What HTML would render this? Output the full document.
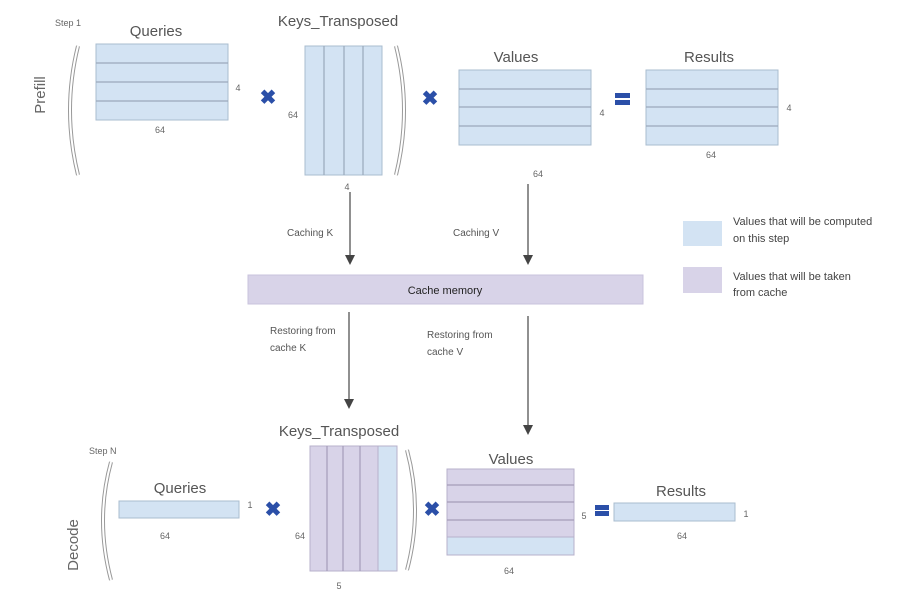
<!DOCTYPE html>
<html><head><meta charset="utf-8"><style>html,body{margin:0;padding:0;background:#fff}svg{display:block}text{font-family:"Liberation Sans",sans-serif}</style></head>
<body>
<svg width="919" height="590" viewBox="0 0 919 590" xmlns="http://www.w3.org/2000/svg">
<defs>
<marker id="ah" markerWidth="10" markerHeight="10" refX="5" refY="9" orient="auto" markerUnits="userSpaceOnUse"><path d="M0,0 L10,0 L5,10 Z" fill="#444" transform="rotate(-90 5 5)"/></marker>
</defs>
<g fill="#444">
<!-- arrows drawn manually -->
<line x1="350" y1="192" x2="350" y2="256" stroke="#555" stroke-width="1.3"/><path d="M345,255 L355,255 L350,265 Z"/>
<line x1="528" y1="184" x2="528" y2="256" stroke="#555" stroke-width="1.3"/><path d="M523,255 L533,255 L528,265 Z"/>
<line x1="349" y1="312" x2="349" y2="400" stroke="#555" stroke-width="1.3"/><path d="M344,399 L354,399 L349,409 Z"/>
<line x1="528" y1="316" x2="528" y2="426" stroke="#555" stroke-width="1.3"/><path d="M523,425 L533,425 L528,435 Z"/>
</g>
<g font-size="10" fill="#555">
<text x="287" y="236">Caching K</text>
<text x="453" y="236">Caching V</text>
<text x="270" y="334">Restoring from</text><text x="270" y="351">cache K</text>
<text x="427" y="338">Restoring from</text><text x="427" y="355">cache V</text>
</g>
<rect x="248" y="275" width="395" height="29" fill="#d8d3e8" stroke="#c9c3dc"/>
<text x="445" y="294" font-size="11" text-anchor="middle" fill="#222">Cache memory</text>
<rect x="683" y="221" width="39" height="25" fill="#d3e3f3"/>
<rect x="683" y="267" width="39" height="26" fill="#d8d3e8"/>
<g font-size="11" fill="#444">
<text x="733" y="225">Values that will be computed</text><text x="733" y="242">on this step</text>
<text x="733" y="280">Values that will be taken</text><text x="733" y="296">from cache</text>
</g>
<!-- Top -->
<text x="55" y="26" font-size="9" fill="#666">Step 1</text>
<text x="45" y="95" font-size="15" fill="#666" text-anchor="middle" transform="rotate(-90 45 95)">Prefill</text>
<path d="M78,46 Q62,110 78,175" fill="none" stroke="#999" stroke-width="4"/><path d="M78,46 Q62,110 78,175" fill="none" stroke="#fff" stroke-width="2"/>
<path d="M396,46 Q412,110 396,175" fill="none" stroke="#999" stroke-width="4"/><path d="M396,46 Q412,110 396,175" fill="none" stroke="#fff" stroke-width="2"/>
<g font-size="15" fill="#555" text-anchor="middle">
<text x="156" y="36">Queries</text>
<text x="338" y="26">Keys_Transposed</text>
<text x="516" y="62">Values</text>
<text x="709" y="62">Results</text>
<text x="180" y="493">Queries</text>
<text x="339" y="436">Keys_Transposed</text>
<text x="511" y="464">Values</text>
<text x="681" y="496">Results</text>
</g>
<g fill="#d3e3f3" stroke="#a9bccf" stroke-width="1">
<rect x="96" y="44" width="132" height="76"/>
<rect x="305" y="46" width="77" height="129"/>
<rect x="459" y="70" width="132" height="75"/>
<rect x="646" y="70" width="132" height="75"/>
<rect x="119" y="501" width="120" height="17"/>
<rect x="614" y="503" width="121" height="18"/>
</g>
<g stroke="#9aa9bb" stroke-width="1.2">
<line x1="96" y1="63" x2="228" y2="63"/><line x1="96" y1="82" x2="228" y2="82"/><line x1="96" y1="101" x2="228" y2="101"/>
<line x1="324" y1="46" x2="324" y2="175"/><line x1="344" y1="46" x2="344" y2="175"/><line x1="363" y1="46" x2="363" y2="175"/>
<line x1="459" y1="89" x2="591" y2="89"/><line x1="459" y1="107" x2="591" y2="107"/><line x1="459" y1="126" x2="591" y2="126"/>
<line x1="646" y1="89" x2="778" y2="89"/><line x1="646" y1="107" x2="778" y2="107"/><line x1="646" y1="126" x2="778" y2="126"/>
</g>
<g font-size="9" fill="#666" text-anchor="middle">
<text x="238" y="91">4</text><text x="160" y="133">64</text>
<text x="293" y="118">64</text><text x="347" y="190">4</text>
<text x="602" y="116">4</text><text x="538" y="177">64</text>
<text x="789" y="111">4</text><text x="711" y="158">64</text>
<text x="250" y="508">1</text><text x="165" y="539">64</text>
<text x="300" y="539">64</text><text x="339" y="589">5</text>
<text x="584" y="519">5</text><text x="509" y="574">64</text>
<text x="746" y="517">1</text><text x="682" y="539">64</text>
</g>
<g font-size="20" font-weight="bold" fill="#2b4fa8" text-anchor="middle">
<text x="268" y="104">✖</text><text x="430" y="105">✖</text>
<text x="273" y="516">✖</text><text x="432" y="516">✖</text>
</g>
<rect x="615" y="93" width="15" height="5" fill="#2b4fa8"/><rect x="615" y="100" width="15" height="5" fill="#2b4fa8"/>
<rect x="595" y="505" width="14" height="5" fill="#2b4fa8"/><rect x="595" y="511" width="14" height="5" fill="#2b4fa8"/>
<!-- Bottom -->
<text x="89" y="454" font-size="9" fill="#666">Step N</text>
<text x="78" y="545" font-size="15" fill="#666" text-anchor="middle" transform="rotate(-90 78 545)">Decode</text>
<path d="M111,462 Q95,520 111,580" fill="none" stroke="#999" stroke-width="4"/><path d="M111,462 Q95,520 111,580" fill="none" stroke="#fff" stroke-width="2"/>
<path d="M407,450 Q423,510 407,570" fill="none" stroke="#999" stroke-width="4"/><path d="M407,450 Q423,510 407,570" fill="none" stroke="#fff" stroke-width="2"/>
<rect x="310" y="446" width="87" height="125" fill="#d8d3e8" stroke="#b7b0cb"/>
<rect x="378" y="446" width="19" height="125" fill="#d3e3f3" stroke="#b7b0cb"/>
<g stroke="#a59db9" stroke-width="1.2"><line x1="327" y1="446" x2="327" y2="571"/><line x1="343" y1="446" x2="343" y2="571"/><line x1="360" y1="446" x2="360" y2="571"/></g>
<rect x="447" y="469" width="127" height="86" fill="#d8d3e8" stroke="#b7b0cb"/>
<rect x="447" y="537" width="127" height="18" fill="#d3e3f3" stroke="#b7b0cb"/>
<g stroke="#a59db9" stroke-width="1.2"><line x1="447" y1="485" x2="574" y2="485"/><line x1="447" y1="502" x2="574" y2="502"/><line x1="447" y1="520" x2="574" y2="520"/></g>
</svg>
</body></html>
